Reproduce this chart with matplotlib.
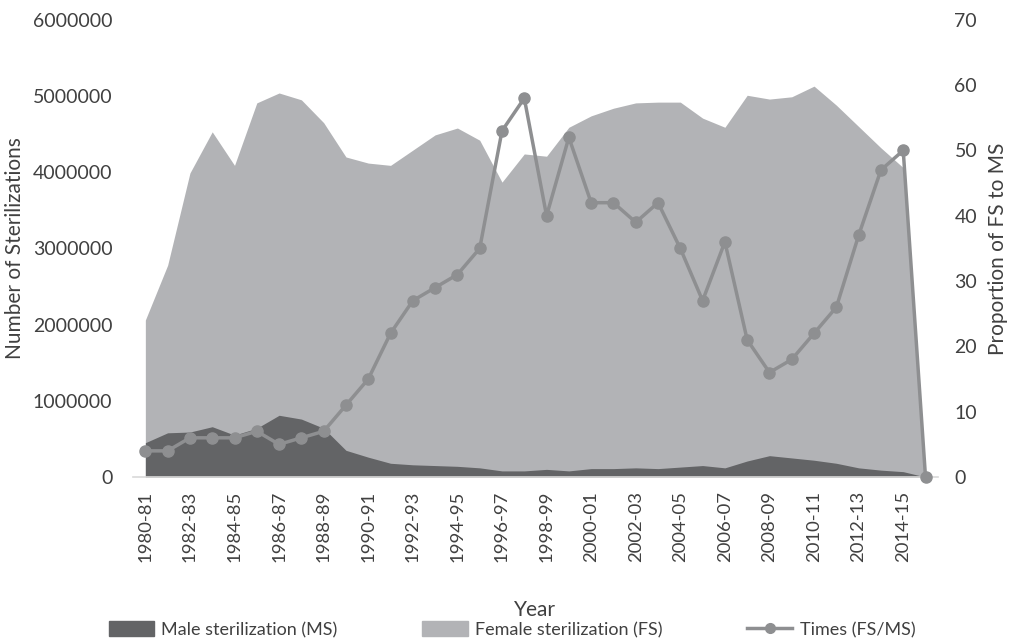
import matplotlib
matplotlib.use("Agg")
import matplotlib.pyplot as plt
import numpy as np
from matplotlib.lines import Line2D
from matplotlib.patches import Patch

plt.rcParams['font.family'] = ['Lato', 'DejaVu Sans']

years = [f"{y}-{str(y+1)[-2:]}" for y in range(1980, 2016)]
male = [450000, 580000, 590000, 660000, 550000, 640000, 810000, 760000, 640000, 350000,
        260000, 180000, 160000, 150000, 140000, 120000, 80000, 80000, 100000, 80000,
        110000, 110000, 120000, 110000, 130000, 150000, 120000, 210000, 280000, 250000,
        220000, 180000, 120000, 90000, 70000, 0]
female = [2060000, 2780000, 3990000, 4530000, 4090000, 4910000, 5040000, 4950000, 4650000, 4200000,
          4120000, 4090000, 4290000, 4490000, 4580000, 4420000, 3870000, 4240000, 4210000, 4590000,
          4740000, 4840000, 4910000, 4920000, 4920000, 4710000, 4590000, 5010000, 4960000, 4990000,
          5130000, 4880000, 4600000, 4320000, 4060000, 0]
times = [4, 4, 6, 6, 6, 7, 5, 6, 7, 11, 15, 22, 27, 29, 31, 35, 53, 58, 40, 52,
         42, 42, 39, 42, 35, 27, 36, 21, 16, 18, 22, 26, 37, 47, 50, 0]

c_male = '#636466'
c_female = '#b2b3b6'
c_line = '#8e8f91'
c_text = '#404040'
fs_tick = 14
fs_title = 15

fig = plt.figure(figsize=(10.16, 6.4), dpi=100)
ax = fig.add_axes([0.131, 0.2547, 0.792, 0.7143])
x = np.arange(len(years))
ax.fill_between(x, 0, female, color=c_female, lw=0, zorder=1)
ax.fill_between(x, 0, male, color=c_male, lw=0, zorder=2)
ax.set_xlim(-0.55, len(years) - 0.45)
ax.set_ylim(0, 6000000)
ax.set_yticks(np.arange(0, 6000001, 1000000))
ax.set_yticklabels([str(v) for v in range(0, 6000001, 1000000)])
ax.set_xticks(x[::2])
ax.set_xticklabels(years[::2], rotation=90)
for s in ['top', 'right', 'left']:
    ax.spines[s].set_visible(False)
ax.spines['bottom'].set_color('#d9d9d9')
ax.spines['bottom'].set_linewidth(1.2)
ax.tick_params(axis='both', length=0, labelsize=fs_tick, colors=c_text)
ax.tick_params(axis='x', pad=10, labelsize=13.3)
ax.tick_params(axis='y', pad=15)
ax.set_ylabel('Number of Sterilizations', fontsize=fs_title, color=c_text)
ax.yaxis.set_label_coords(-0.134, 0.5)
ax.set_xlabel('Year', fontsize=fs_title, color=c_text)
ax.xaxis.set_label_coords(0.5, -0.268)

ax2 = ax.twinx()
ax2.plot(x, times, color=c_line, lw=2.5, marker='o', ms=8, zorder=5, clip_on=False)
ax2.set_ylim(0, 70)
ax2.set_yticks(range(0, 71, 10))
for s in ['top', 'right', 'left', 'bottom']:
    ax2.spines[s].set_visible(False)
ax2.tick_params(axis='y', length=0, labelsize=fs_tick, colors=c_text, pad=12)
ax2.set_ylabel('Proportion of FS to MS', fontsize=fs_title, color=c_text)
ax2.yaxis.set_label_coords(1.062, 0.5)

handles = [Patch(color=c_male), Patch(color=c_female),
           Line2D([0], [0], color=c_line, lw=2.5, marker='o', ms=7)]
labels = ['Male sterilization (MS)', 'Female sterilization (FS)', 'Times (FS/MS)']
fig.legend(handles, labels, loc='center', bbox_to_anchor=(0.504, 0.016), ncol=3,
           frameon=False, fontsize=13, columnspacing=4.7, handlelength=2.5,
           handleheight=0.9, handletextpad=0.4, labelcolor=c_text)

fig.savefig('out.png', dpi=100)
